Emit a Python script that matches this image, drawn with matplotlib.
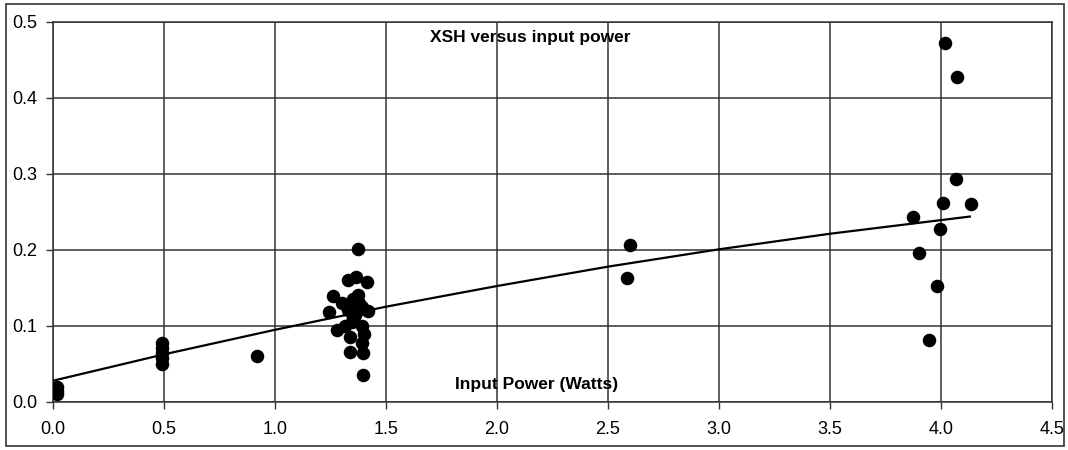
import matplotlib
matplotlib.use("Agg")
import matplotlib.pyplot as plt
from matplotlib.patches import Rectangle

plt.rcParams['font.family'] = ['Liberation Sans', 'DejaVu Sans']

# Data
power_w = [0.02, 0.02, 0.02,
           0.49, 0.49, 0.49, 0.49, 0.49,
           0.92,
           1.375, 1.33, 1.365, 1.414, 1.26, 1.30, 1.374, 1.35, 1.243, 1.33,
           1.36, 1.39, 1.419, 1.278, 1.315, 1.338, 1.39, 1.40, 1.338, 1.39,
           1.397, 1.397, 1.35, 1.38, 1.37, 1.345,
           2.60, 2.585,
           4.018, 4.07, 4.068, 4.008, 4.134, 3.875, 3.995, 3.902, 3.98, 3.947]
xsh = [0.010, 0.015, 0.020,
       0.050, 0.058, 0.065, 0.071, 0.077,
       0.060,
       0.201, 0.160, 0.165, 0.158, 0.139, 0.130, 0.141, 0.135, 0.119, 0.121,
       0.115, 0.125, 0.120, 0.095, 0.100, 0.086, 0.100, 0.090, 0.066, 0.077,
       0.064, 0.035, 0.110, 0.130, 0.120, 0.105,
       0.206, 0.163,
       0.473, 0.427, 0.293, 0.262, 0.261, 0.243, 0.227, 0.196, 0.153, 0.081]

# Trend line
trend_x = [0.0, 0.5, 1.0, 1.5, 2.0, 2.5, 3.0, 3.5, 4.13]
trend_y = [0.028, 0.0627, 0.0950, 0.1254, 0.1526, 0.1781, 0.2009, 0.2214, 0.2440]

x_ticks = [0.0, 0.5, 1.0, 1.5, 2.0, 2.5, 3.0, 3.5, 4.0, 4.5]
y_ticks = [0.0, 0.1, 0.2, 0.3, 0.4, 0.5]

fig = plt.figure(figsize=(10.68, 4.5), dpi=100)
ax = fig.add_axes([53/1068, 1 - 402/450, (1052-53)/1068, (402-22)/450])

ax.scatter(power_w, xsh, s=95, color='black', zorder=3, linewidths=0)
ax.plot(trend_x, trend_y, color='black', lw=1.6, zorder=4)

ax.set_xlim(0, 4.5)
ax.set_ylim(0, 0.5)
ax.set_xticks(x_ticks)
ax.set_yticks(y_ticks)
ax.set_xticklabels([f"{v:.1f}" for v in x_ticks])
ax.set_yticklabels([f"{v:.1f}" for v in y_ticks])
ax.tick_params(axis='both', labelsize=13, length=5, width=1, color='#333333')
ax.tick_params(axis='x', pad=9)
ax.tick_params(axis='y', pad=6)
ax.grid(True, color='#333333', lw=1.1)
ax.set_axisbelow(True)
for sp in ax.spines.values():
    sp.set_color('#333333')
    sp.set_linewidth(1.1)

ax.text(0.4775, 0.958, "XSH versus input power", transform=ax.transAxes,
        ha='center', va='center', fontsize=12.5, fontweight='bold')
ax.text(0.4845, 0.045, "Input Power (Watts)", transform=ax.transAxes,
        ha='center', va='center', fontsize=12.5, fontweight='bold')

fig.patches.append(Rectangle((6/1068, 4/450), (1064-6)/1068, (446-4)/450,
                             transform=fig.transFigure, fill=False,
                             edgecolor='#333333', lw=1.2))

fig.savefig("out.png", dpi=100)
